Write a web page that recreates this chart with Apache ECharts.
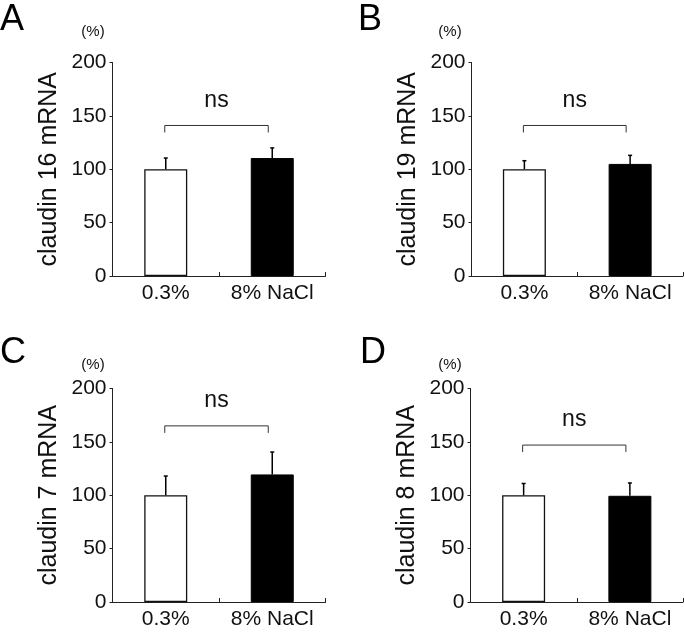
<!DOCTYPE html>
<html>
<head>
<meta charset="utf-8">
<script src="https://cdn.jsdelivr.net/npm/echarts@6/dist/echarts.min.js"></script>
<style>
  html, body { margin: 0; padding: 0; background: #fff; }
  #chart { width: 685px; height: 639px; }
</style>
</head>
<body>
<div id="chart"></div>
<script>
// groups on the x axis
var categories = ['0.3%', '8% NaCl']
var panelLetters = ['A', 'B', 'C', 'D']
var axisNames = ['claudin 16 mRNA', 'claudin 19 mRNA', 'claudin 7 mRNA', 'claudin 8 mRNA']
// means (% of control) per panel: [0.3%, 8% NaCl]
var meanA = [100, 110.5]
var meanB = [100, 105]
var meanC = [100, 119.5]
var meanD = [100, 99.5]
// upper error bars
var errA = [10.5, 9.5]
var errB = [8, 8]
var errC = [18, 21]
var errD = [11, 12]
// height of the "ns" bracket
var bracketLevel = [141, 141, 165, 147]
var yTicks = [0, 50, 100, 150, 200]

var means = [meanA, meanB, meanC, meanD]
var errs = [errA, errB, errC, errD]

var FONT = '"Liberation Sans", Arial, Helvetica, sans-serif'
var INK = '#111'

// grid boxes (px)
var grids = [
  { left: 112.5, top: 62.5, width: 213, height: 213.5 },
  { left: 471.5, top: 62.5, width: 211.5, height: 213.5 },
  { left: 112.5, top: 388.5, width: 213, height: 213.5 },
  { left: 470.5, top: 388.5, width: 212.5, height: 213.5 }
]
// letter / (%) positions
var letterPos = [[0, 2], [358, 2], [0, 335], [360, 335]]
var pctPos = [[93, 32], [450, 32], [93, 365], [450, 365]]

var option = {
  animation: false,
  backgroundColor: '#fff',
  grid: [],
  xAxis: [],
  yAxis: [],
  series: [],
  graphic: []
}

for (var p = 0; p < 4; p++) {
  option.grid.push(grids[p])
  option.xAxis.push({
    type: 'category',
    gridIndex: p,
    data: categories,
    boundaryGap: true,
    axisLine: { lineStyle: { color: '#222', width: 1 } },
    axisTick: { show: true, inside: true, length: 4, lineStyle: { color: '#222' } },
    axisLabel: { interval: 0, hideOverlap: false, color: INK, fontSize: 21, fontFamily: FONT, margin: 7 },
    splitLine: { show: false }
  })
  option.yAxis.push({
    type: 'value',
    gridIndex: p,
    min: yTicks[0],
    max: yTicks[yTicks.length - 1],
    interval: 50,
    name: axisNames[p],
    nameLocation: 'middle',
    nameGap: 51,
    nameTextStyle: { color: INK, fontSize: 25, fontFamily: FONT },
    axisLine: { show: true, lineStyle: { color: '#222', width: 1 } },
    axisTick: { show: true, length: 3, lineStyle: { color: '#222' } },
    axisLabel: { color: INK, fontSize: 21, fontFamily: FONT, margin: 6 },
    splitLine: { show: false }
  })

  // bars
  option.series.push({
    type: 'bar',
    xAxisIndex: p,
    yAxisIndex: p,
    barWidth: 43,
    data: means[p].map(function(v, i) {
      return {
        value: v,
        itemStyle: i === 0
          ? { color: '#fff', borderColor: '#111', borderWidth: 1.3 }
          : { color: '#000', borderColor: '#000', borderWidth: 1 }
      }
    }),
    z: 2
  })

  // error bars (upper only)
  option.series.push({
    type: 'custom',
    xAxisIndex: p,
    yAxisIndex: p,
    data: means[p].map(function(v, i) { return [i, v, v + errs[p][i]] }),
    encode: { x: 0, y: [1, 2] },
    renderItem: function(params, api) {
      var base = api.coord([api.value(0), api.value(1)])
      var top = api.coord([api.value(0), api.value(2)])
      var style = { stroke: '#000', lineWidth: 1.5 }
      return {
        type: 'group',
        children: [
          { type: 'line', shape: { x1: base[0], y1: base[1], x2: top[0], y2: top[1] }, style: style },
          { type: 'line', shape: { x1: top[0] - 2, y1: top[1], x2: top[0] + 2, y2: top[1] }, style: style }
        ]
      }
    },
    z: 3
  })

  // ns bracket
  option.series.push({
    type: 'custom',
    xAxisIndex: p,
    yAxisIndex: p,
    data: [[0, bracketLevel[p]]],
    encode: { x: 0, y: 1 },
    renderItem: function(params, api) {
      var a = api.coord([0, api.value(1)])
      var b = api.coord([1, api.value(1)])
      var x1 = a[0] - 1
      var x2 = b[0] - 4
      var y = a[1]
      var style = { stroke: '#333', lineWidth: 1, fill: null }
      return {
        type: 'group',
        children: [
          { type: 'polyline', shape: { points: [[x1, y + 7], [x1, y], [x2, y], [x2, y + 7]] }, style: style },
          {
            type: 'text',
            style: {
              text: 'ns', x: (x1 + x2) / 2, y: y - 25,
              align: 'center', verticalAlign: 'middle',
              fill: INK, font: '23px ' + FONT
            }
          }
        ]
      }
    },
    z: 3
  })

  option.graphic.push({
    type: 'text',
    left: letterPos[p][0],
    top: letterPos[p][1],
    style: { text: panelLetters[p], fill: '#000', font: '36px ' + FONT }
  })
  option.graphic.push({
    type: 'text',
    x: pctPos[p][0],
    y: pctPos[p][1],
    style: { text: '(%)', fill: INK, font: '15px ' + FONT, align: 'center', verticalAlign: 'middle' }
  })
}

var chart = echarts.init(document.getElementById('chart'), null, { renderer: 'canvas' })
chart.setOption(option)
</script>
</body>
</html>
